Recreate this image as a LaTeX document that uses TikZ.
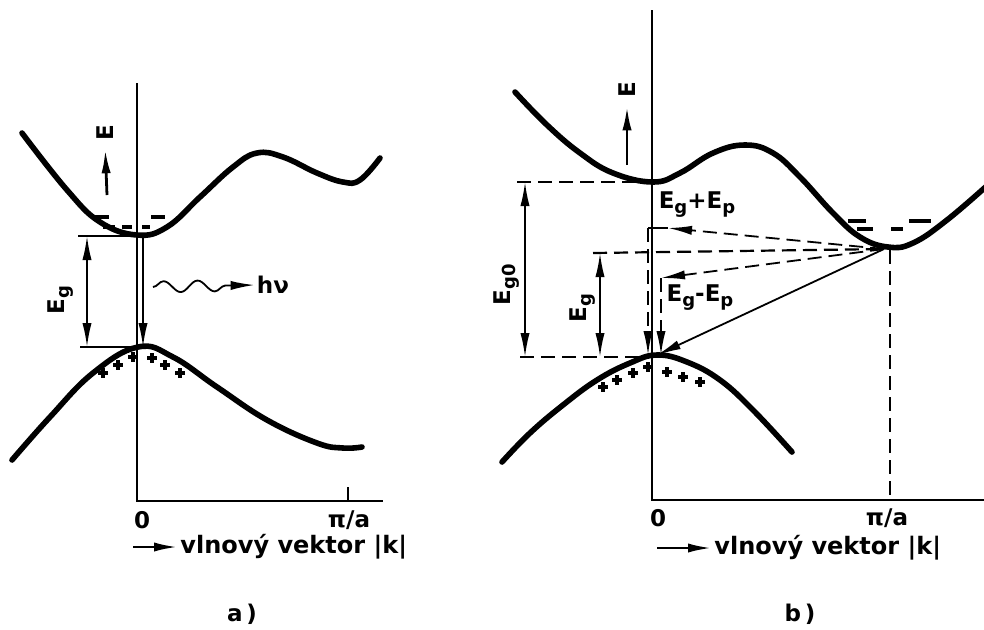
\documentclass[tikz,border=0pt]{standalone}
\usepackage{fontspec}
\setmainfont{DejaVu Sans}
\usetikzlibrary{arrows.meta,positioning,decorations.pathmorphing}
\newcommand\sbx[1]{\raisebox{-0.4ex}{\fontsize{9}{11}\selectfont #1}}

\begin{document}
\begin{tikzpicture}[x=0.5pt,y=-0.5pt,font=\fontsize{11.5}{14}\selectfont\bfseries,
  band/.style={line width=2.8pt,line cap=round},
  kax/.style={line width=0.9pt},
  dsh/.style={line width=1.1pt,dash pattern=on 7pt off 3.5pt},
  arr/.style={-{Latex[length=12pt,width=4.6pt]},line width=0.9pt},
  darr/.style={{Latex[length=12pt,width=4.6pt]}-{Latex[length=12pt,width=4.6pt]},line width=0.9pt},
  chg/.style={line width=1.8pt},
  lbl/.style={inner sep=1pt},
  rlbl/.style={inner sep=1pt,rotate=90},
  klbl/.style={inner sep=1pt,anchor=west,font=\fontsize{12}{15}\selectfont\bfseries}]
\useasboundingbox (0,0) rectangle (984,629);
% a)
\draw[kax] (137,83) -- (137,501) -- (383,501);
\draw[kax] (348,487) -- (348,501);
\draw[band] plot[smooth,tension=0.7] coordinates {(22,133) (67,190) (100,222) (137,235) (167,227) (200,197) (233,167) (257,153) (283,157) (317,173) (343,182) (360,180) (380,158)};
\draw[band] plot[smooth,tension=0.7] coordinates {(12,460) (50,417) (93,373) (138,347) (173,357) (217,387) (267,420) (317,443) (343,448) (362,447)};
\coordinate (cA) at (143,236);
\coordinate (vA) at (143,347);
\coordinate (gA1) at (78,236);
\coordinate (gA2) at (80,347);
\draw[kax] (gA1) -- (cA);
\draw[kax] (gA2) -- (vA);
\draw[darr] (87,236) -- (87,347);
\draw[arr] (cA) -- (vA);
\node[rlbl] (egA) at (61,300) {E\sbx{g}};
\node[rlbl] (eA) at (105,133) {E};
\draw[arr,line width=1.4pt,shorten >=3pt] (107,195) -- (eA.west);
\node[lbl] (hv) at (273,285) {hν};
\draw[arr,decorate,decoration={snake,amplitude=2.8pt,segment length=17pt,post length=11pt}] (153,287) -- (hv.west);
\foreach \p in {(133,357),(118,365),(103,373),(152,358),(165,365),(180,373)}
  \draw[chg] \p +(-5,0) -- +(5,0) +(0,-5) -- +(0,5);
\foreach \x/\y/\l in {101/217/8,158/217/7,109/227/6,127/227/5,146/227/4}
  \draw[chg] (\x-\l,\y) -- (\x+\l,\y);
\node[lbl] (zA) at (142,520) {0};
\node[lbl] (piA) at (349,520) {π/a};
\node[klbl] (kA) at (178,547) {vlnový vektor |k|};
\draw[arr,line width=1.4pt] (133,547) -- (kA.west);
\node[lbl] (pA) at (242,614) {a\,)};
% b)
\draw[kax] (652,10) -- (652,500) -- (984,500);
\draw[band] plot[smooth,tension=0.7] coordinates {(515,92) (547,125) (580,153) (613,173) (653,182) (680,173) (713,153) (745,145) (773,153) (800,177) (833,213) (860,237) (888,247) (913,243) (947,220) (990,183)};
\draw[band] plot[smooth,tension=0.7] coordinates {(502,462) (530,433) (563,405) (597,380) (630,363) (657,355) (687,362) (720,380) (753,410) (792,452)};
\coordinate (cB) at (884,249);
\coordinate (vB) at (657,355);
\coordinate (up) at (668,228);
\coordinate (upc) at (648,228);
\coordinate (lo) at (661,278);
\draw[dsh] (517,182) -- (652,182);
\draw[dsh] (520,357) -- (650,357);
\draw[dsh] (593,253) -- (cB);
\draw[dsh] (890,250) -- (890,500);
\draw[darr] (525,182) -- (525,357);
\draw[darr] (600,253) -- (600,357);
\node[rlbl] (eg0) at (507,285) {E\sbx{g0}};
\node[rlbl] (egB) at (583,308) {E\sbx{g}};
\draw[dsh,arr] (cB) -- (up);
\draw[kax] (up) -- (upc);
\draw[dsh,arr] (upc) -- (648,355);
\draw[dsh,arr] (cB) -- (lo);
\draw[dsh,arr] (lo) -- (661,355);
\draw[arr] (cB) -- (vB);
\node[lbl] (egp) at (697,205) {E\sbx{g}+E\sbx{p}};
\node[lbl] (egm) at (700,298) {E\sbx{g}-E\sbx{p}};
\node[rlbl] (eB) at (627,90) {E};
\draw[arr,line width=1.4pt,shorten >=3pt] (627,165) -- (eB.west);
\foreach \p in {(603,387),(617,380),(633,373),(648,367),(667,372),(683,377),(700,382)}
  \draw[chg] \p +(-5,0) -- +(5,0) +(0,-5) -- +(0,5);
\foreach \x/\y/\l in {857/221/9,920/221/11,865/229/8,897/229/6}
  \draw[chg] (\x-\l,\y) -- (\x+\l,\y);
\node[lbl] (zB) at (658,518) {0};
\node[lbl] (piB) at (887,518) {π/a};
\node[klbl] (kB) at (712,548) {vlnový vektor |k|};
\draw[arr,line width=1.4pt] (657,548) -- (kB.west);
\node[lbl] (pB) at (800,614) {b\,)};
\end{tikzpicture}
\end{document}
